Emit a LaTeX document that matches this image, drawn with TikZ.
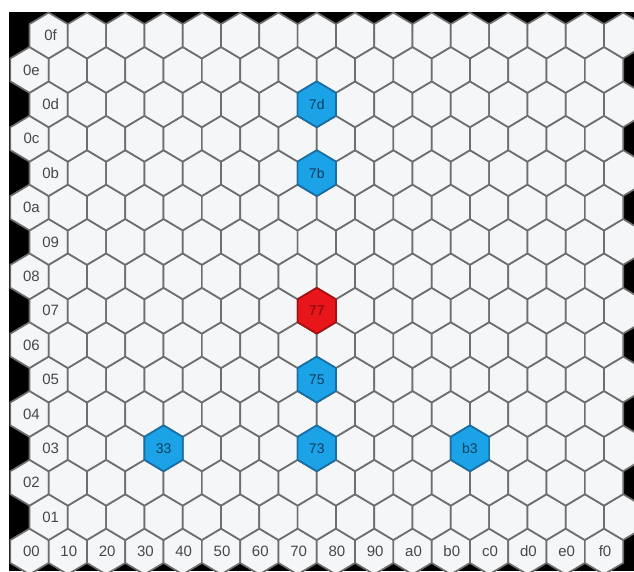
\documentclass[tikz,border=0pt]{standalone}
\usepackage{fontspec}
\setmainfont{Liberation Sans}
\definecolor{hexfill}{HTML}{F4F6F8}
\definecolor{hexedge}{HTML}{6E6E6E}
\definecolor{hlblue}{HTML}{1CA2E6}
\definecolor{hlblueedge}{HTML}{1670A8}
\definecolor{hlred}{HTML}{E8161B}
\definecolor{hlrededge}{HTML}{A80E10}
\definecolor{lbltext}{HTML}{474747}
\tikzset{
  hexline/.style={draw=hexedge, line width=1.7pt, fill=hexfill, line join=round},
  lbl/.style={text=lbltext, inner sep=0pt, font=\fontsize{15}{16}\selectfont},
  bluehex/.style={draw=hlblueedge, line width=1.7pt, fill=hlblue, line join=round},
  redhex/.style={draw=hlrededge, line width=1.7pt, fill=hlred, line join=round},
  bluetxt/.style={text=hlblueedge!55!black, inner sep=0pt, font=\fontsize{14}{15}\selectfont},
  redtxt/.style={text=hlrededge!70!black, inner sep=0pt, font=\fontsize{14}{15}\selectfont},
}
\newcommand{\hexpath}[2]{(#1) +(0,-22.9) -- +(19.15,-11.45) -- +(19.15,11.45) -- +(0,22.9) -- +(-19.15,11.45) -- +(-19.15,-11.45) -- cycle}
\begin{document}
\begin{tikzpicture}[x=1pt,y=-1pt]
\useasboundingbox (0,0) rectangle (634,571);
\fill[white] (0,0) rectangle (634,571);
\fill[black] (9,12) rectangle (634,571);
% grid
\foreach \r in {0,...,15}{
  \foreach \c in {0,...,15}{
    \pgfmathsetmacro\cx{29.5+38.3*\c+19.15*mod(\r,2)}
    \pgfmathsetmacro\cy{551.5-34.4*\r}
    \coordinate (h-\c-\r) at (\cx,\cy);
    \path[hexline] \hexpath{h-\c-\r}{};
  }
}
% highlighted cells
\foreach \c/\r/\t in {7/13/7d,7/11/7b,7/5/75,7/3/73,3/3/33,11/3/b3}{
  \path[bluehex] \hexpath{h-\c-\r}{};
  \node[bluetxt] (t-\c-\r) at (h-\c-\r) {\t};
}
\path[redhex] \hexpath{h-7-7}{};
\node[redtxt] (t-7-7) at (h-7-7) {77};
% row labels
\foreach \r/\t in {0/00,1/01,2/02,3/03,4/04,5/05,6/06,7/07,8/08,9/09,10/0a,11/0b,12/0c,13/0d,14/0e,15/0f}{
  \node[lbl] (r-\r) at ([xshift=2pt]h-0-\r) {\t};
}
% column labels
\foreach \c/\t in {1/10,2/20,3/30,4/40,5/50,6/60,7/70,8/80,9/90,10/a0,11/b0,12/c0,13/d0,14/e0,15/f0}{
  \node[lbl] (c-\c) at ([xshift=1pt]h-\c-0) {\t};
}
\end{tikzpicture}
\end{document}
